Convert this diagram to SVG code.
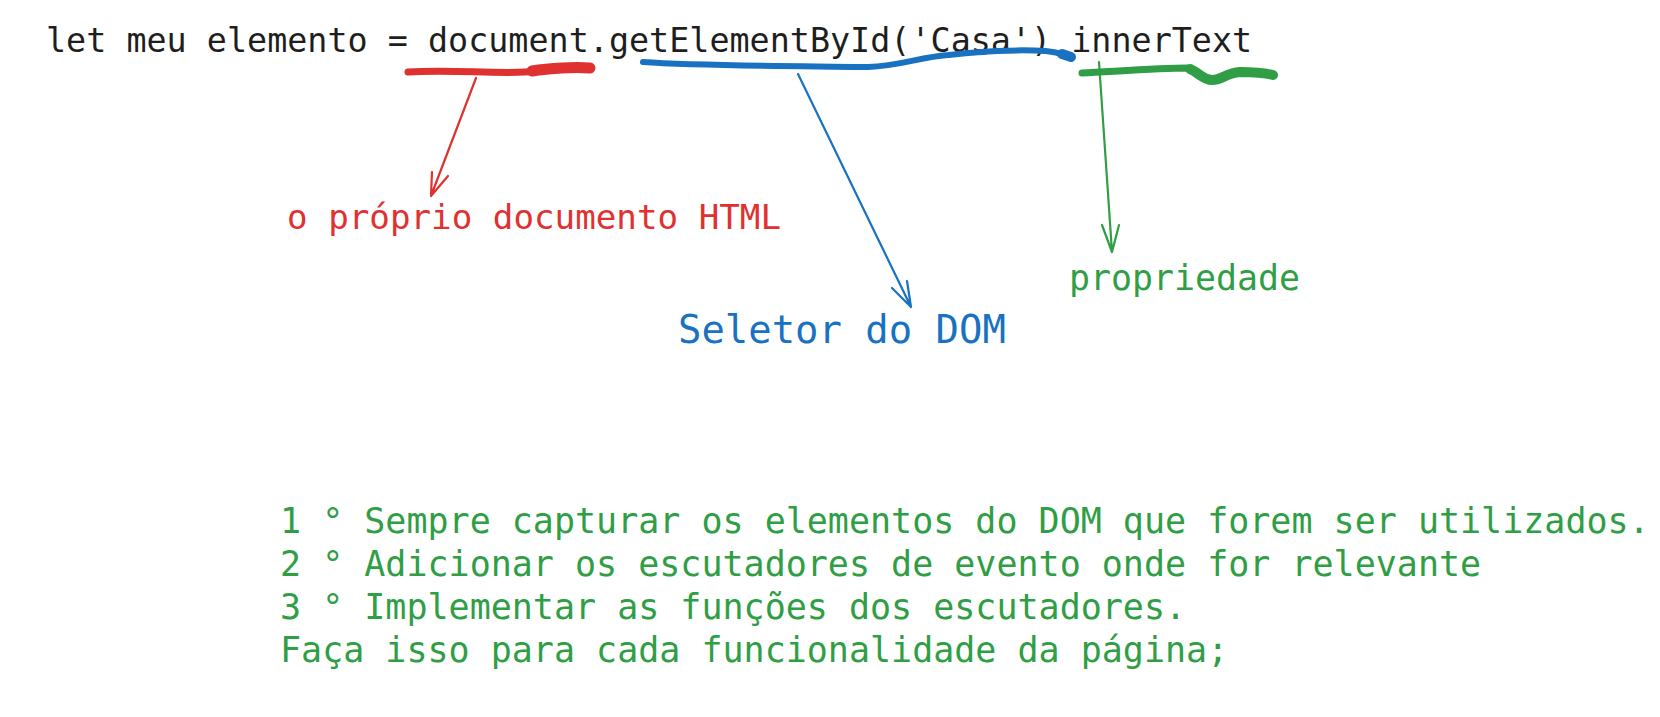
<svg xmlns="http://www.w3.org/2000/svg" width="1660" height="717" viewBox="0 0 1660 717">
<style>
text{font-family:"DejaVu Sans Mono","Liberation Mono",monospace;}
.code{fill:#1e1e1e;font-size:33.4px;}
.red{fill:#e03131;}
.blue{fill:#1971c2;}
.green{fill:#2f9e44;}
.hl{fill:none;stroke-linecap:round;stroke-linejoin:round;}
.ar{fill:none;stroke-width:2.2;stroke-linecap:round;stroke-linejoin:round;}
</style>
<rect width="1660" height="717" fill="#ffffff"/>
<g id="code-line">
<text class="code" x="46" y="52">let meu elemento = document.getElementById('Casa') innerText</text>
</g>
<g id="connectors">
<path class="hl" stroke="#e03131" stroke-width="7" d="M408 72 C 450 69, 490 74, 525 72 S 570 67, 591 68"/>
<path class="hl" stroke="#e03131" stroke-width="11" d="M532 71 C 550 68, 575 67, 590 68"/>
<path class="ar" stroke="#e03131" d="M476 78 L 431 196 M431 196 L 432 172 M431 196 L 448 176"/>
<path class="hl" stroke="#1971c2" stroke-width="6" d="M643 62 C 700 66, 800 66, 868 67 C 900 66, 920 57, 948 55 C 980 52, 1010 49, 1046 51 C 1060 52, 1066 56, 1071 57"/>
<path class="hl" stroke="#1971c2" stroke-width="10" d="M1062 54 L 1071 57"/>
<path class="ar" stroke="#1971c2" d="M798 74 L 911 307 M911 307 L 892 288 M911 307 L 907 281"/>
<path class="hl" stroke="#2f9e44" stroke-width="7" d="M1082 73 C 1120 71, 1160 68, 1187 68 C 1198 70, 1203 80, 1212 80 C 1222 80, 1226 73, 1240 72 C 1255 72, 1265 73, 1273 75"/>
<path class="hl" stroke="#2f9e44" stroke-width="10" d="M1190 69 C 1198 72, 1203 80, 1212 80 C 1222 80, 1226 73, 1240 72 C 1255 72, 1265 73, 1273 75"/>
<path class="ar" stroke="#2f9e44" d="M1099 62 L 1112 252 M1112 252 L 1102 225 M1112 252 L 1119 225"/>
</g>
<g id="label-documento">
<text class="red" x="287" y="229" font-size="34.2">o próprio documento HTML</text>
</g>
<g id="label-seletor">
<text class="blue" x="678" y="343" font-size="38.9">Seletor do DOM</text>
</g>
<g id="label-propriedade">
<text class="green" x="1069" y="290" font-size="34.9">propriedade</text>
</g>
<g id="steps">
<text class="green" x="280" y="533" font-size="35">1 ° Sempre capturar os elementos do DOM que forem ser utilizados.</text>
<text class="green" x="280" y="576" font-size="35">2 ° Adicionar os escutadores de evento onde for relevante</text>
<text class="green" x="280" y="619" font-size="35">3 ° Implementar as funções dos escutadores.</text>
<text class="green" x="280" y="662" font-size="35">Faça isso para cada funcionalidade da página;</text>
</g>
</svg>
